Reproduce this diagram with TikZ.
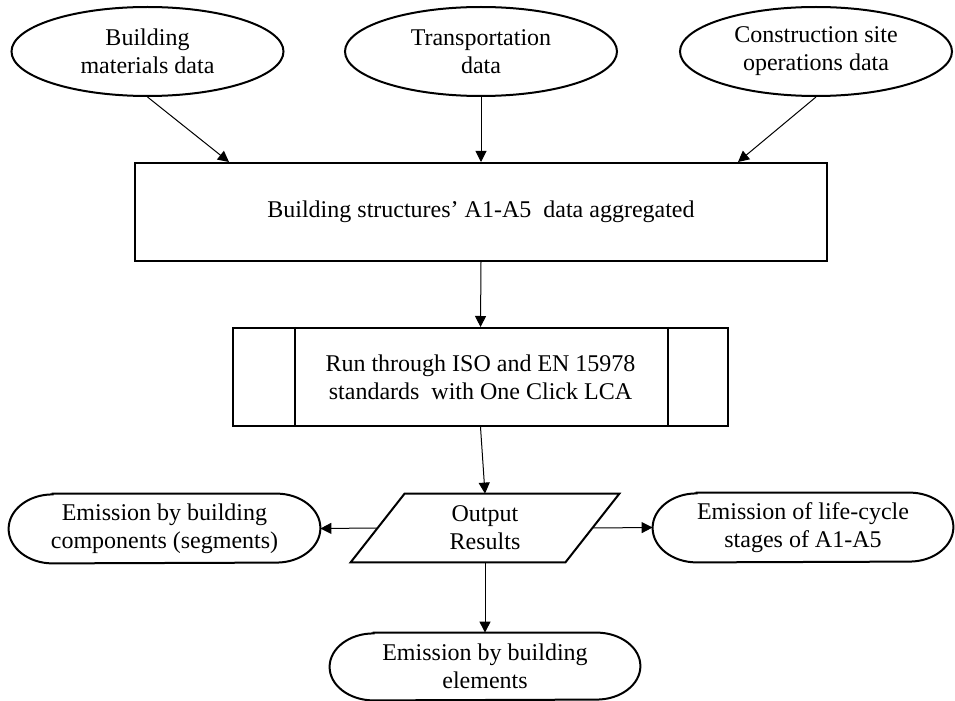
\documentclass[tikz,border=0pt]{standalone}
\usepackage{fontspec}
\setmainfont{Liberation Serif}
\usetikzlibrary{shapes.geometric,arrows.meta}
\newcommand{\pilloutline}[2]{%
  \draw[line width=1pt] ([xshift=22pt]#1.north west) -- ([xshift=-22pt]#1.north east)
    arc[start angle=90,end angle=-90,x radius=22pt,y radius=#2]
    -- ([xshift=22pt]#1.south west)
    arc[start angle=270,end angle=90,x radius=22pt,y radius=#2] -- cycle;}
\begin{document}
\begin{tikzpicture}[x=0.5pt,y=-0.5pt,
  every node/.style={font=\fontsize{12pt}{14pt}\selectfont, align=center, inner sep=0pt},
  src/.style={ellipse, draw, line width=1pt, minimum width=136pt, minimum height=44.5pt},
  box/.style={rectangle, draw, line width=1pt},
  pill/.style={rectangle, minimum height=34.5pt},
  arr/.style={line width=0.5pt, -{Triangle[length=5.5pt,width=5.5pt]}}
]
\useasboundingbox (0,0) rectangle (955,701);
\node[src] (e1) at (147.5,51.5) {Building\\materials data};
\node[src] (e2) at (481,51.5) {Transportation\\data};
\node[src] (e3) at (816,51.5) {Construction site\\operations data};
\node[box, minimum width=346pt, minimum height=49pt] (r1) at (481,212) {Building structures’ A1-A5\ \ data aggregated};
\node[box, minimum width=247.5pt, minimum height=49pt] (r2) at (480.5,377) {Run through ISO and EN 15978\\standards\ \ with One Click LCA};
\draw[line width=1pt] ([xshift=31.5pt]r2.north west) -- ([xshift=31.5pt]r2.south west);
\draw[line width=1pt] ([xshift=-30.5pt]r2.north east) -- ([xshift=-30.5pt]r2.south east);
\node[minimum width=107pt, minimum height=34pt] (p) at (485,528) {Output\\Results};
\draw[line width=1pt] ([xshift=-13.5pt]p.south west) -- ([xshift=13.5pt]p.north west) -- ([xshift=13.5pt]p.north east) -- ([xshift=-13.5pt]p.south east) -- cycle;
\node[pill, minimum width=155.5pt] (s1) at (164.5,528.5) {Emission by building\\components (segments)};
\pilloutline{s1}{17.25pt}
\node[pill, minimum width=150pt] (s2) at (803,527.5) {Emission of life-cycle\\stages of A1-A5};
\pilloutline{s2}{17.25pt}
\node[pill, minimum width=155pt, minimum height=33.5pt] (s3) at (485,666.5) {Emission by building\\elements};
\pilloutline{s3}{16.75pt}
\draw[arr] (e1.south) -- ([xshift=47.5pt]r1.north west);
\draw[arr] (e2.south) -- (r1.north);
\draw[arr] (e3.south) -- ([xshift=-45pt]r1.north east);
\draw[arr] (r1.south) -- (r2.north);
\draw[arr] (r2.south) -- (p.north);
\draw[arr] (p.west) -- (s1.east);
\draw[arr] (p.east) -- (s2.west);
\draw[arr] (p.south) -- (s3.north);
\end{tikzpicture}
\end{document}
